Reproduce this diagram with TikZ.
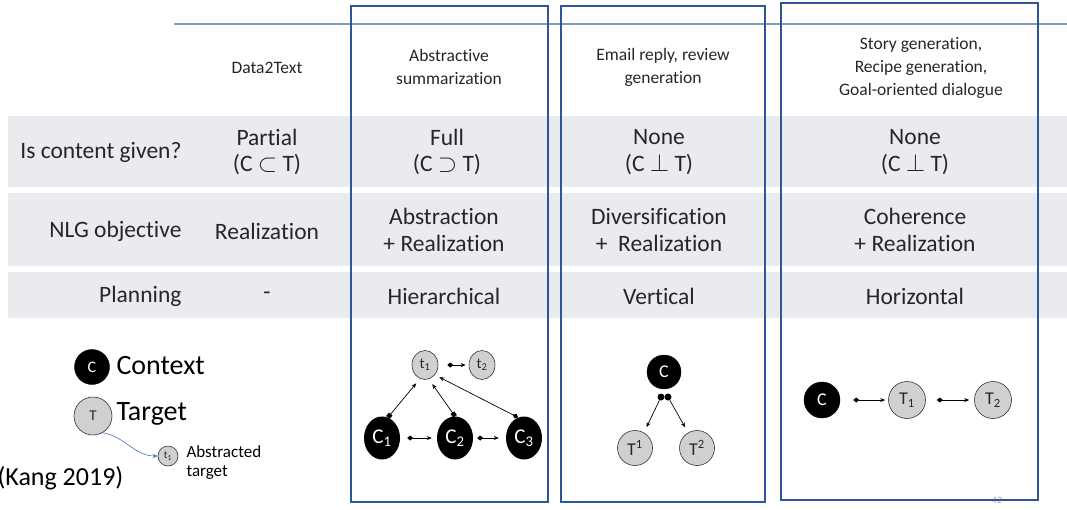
\documentclass[tikz,border=0pt]{standalone}
\usepackage{fontspec}
\setmainfont[Ligatures=NoCommon]{Carlito}
\usetikzlibrary{arrows.meta,shapes.geometric}
\definecolor{rowgray}{HTML}{E9EBEE}
\definecolor{boxblue}{HTML}{2F5597}
\definecolor{rulegray}{HTML}{8497B0}
\definecolor{txt}{HTML}{262626}
\definecolor{nodegray}{HTML}{D0D0D0}
\definecolor{linkblue}{HTML}{4472C4}
\tikzset{
  x=1pt, y=-1pt,
  head/.style={text=txt, align=center, font=\fontsize{17.5}{23}\selectfont},
  cell/.style={text=txt, align=center, font=\fontsize{23.5}{26.5}\selectfont},
  rowlabel/.style={text=txt, anchor=east, font=\fontsize{23.5}{26}\selectfont},
  colbox/.style={draw=boxblue, line width=2.6pt},
  ctx/.style={circle, fill=black, draw=black, text=white, inner sep=0pt},
  tgt/.style={circle, fill=nodegray, draw=black!80, line width=0.6pt, text=txt, inner sep=0pt},
  bigctx/.style={ellipse, fill=black, text=white, inner sep=0pt, minimum width=36pt, minimum height=43pt, font=\fontsize{21}{21}\selectfont},
  smalltgt/.style={ellipse, fill=nodegray, draw=black!80, line width=0.6pt, text=txt, inner sep=0pt, minimum width=26pt, minimum height=29pt, font=\fontsize{15}{15}\selectfont},
  link/.style={draw=black, line width=0.7pt, {Diamond[length=6pt,width=5pt]}-{Stealth[length=5pt,width=4pt]}},
  sqlink/.style={draw=black, line width=0.7pt, {Square[length=4.5pt,width=4.5pt]}-{Stealth[length=5pt,width=4pt]}},
  plainlink/.style={draw=black, line width=0.7pt, -{Stealth[length=5pt,width=4pt]}},
}
\begin{document}
\begin{tikzpicture}
\useasboundingbox (0,0) rectangle (1067,509);

% shaded table rows
\fill[rowgray] (8,116) rectangle (1067,187);
\fill[rowgray] (8,193) rectangle (1067,266);
\fill[rowgray] (8,272) rectangle (1067,318);

% rule under the title area
\draw[rulegray, line width=1.3pt] (174,24) -- (1067,24);

% slide number
\node[text=black!35, font=\fontsize{10}{10}\selectfont] (pgno) at (997,500) {42};

% column headers
\node[head] (h1) at (267,68) {Data2Text};
\node[head] (h2) at (449,67) {Abstractive\\summarization};
\node[head] (h3) at (663,67) {Email reply, review\\generation};
\node[head] (h4) at (921,68) {Story generation,\\Recipe generation,\\Goal-oriented dialogue};

% row labels
\node[rowlabel] (l1) at (185,152) {Is content given?};
\node[rowlabel] (l2) at (185,231) {NLG objective};
\node[rowlabel] (l3) at (185,296) {Planning};

% row 1
\node[cell] (r1c1) at (267,152) {Partial\\(C $\subset$ T)};
\node[cell] (r1c2) at (447,152) {Full\\(C $\supset$ T)};
\node[cell] (r1c3) at (659,152) {None\\(C $\perp$ T)};
\node[cell] (r1c4) at (915,152) {None\\(C $\perp$ T)};

% row 2
\node[cell] (r2c1) at (267,231) {Realization};
\node[cell] (r2c2) at (444,230) {Abstraction\\+ Realization};
\node[cell] (r2c3) at (659,230) {Diversification\\+\ \ Realization};
\node[cell] (r2c4) at (915,230) {Coherence\\+ Realization};

% row 3
\node[cell] (r3c1) at (267,296) {-};
\node[cell] (r3c2) at (444,296) {Hierarchical};
\node[cell] (r3c3) at (659,296) {Vertical};
\node[cell] (r3c4) at (915,296) {Horizontal};

% highlighted columns
\draw[colbox] (351,6) rectangle (548,502);
\draw[colbox] (561,6) rectangle (765,502);
\draw[colbox] (781,3) rectangle (1038,500);

% legend
\node[ctx, minimum size=35pt, font=\fontsize{16}{16}\selectfont] (lc) at (92,367) {C};
\node[anchor=west, font=\fontsize{28}{28}\selectfont] (lctext) at (113,366) {Context};
\node[tgt, minimum size=38pt, font=\fontsize{15}{15}\selectfont] (lt) at (93,416) {T};
\node[anchor=west, font=\fontsize{28}{28}\selectfont] (lttext) at (113,414) {Target};
\node[tgt, minimum size=20pt, font=\fontsize{11}{11}\selectfont] (ls) at (168,456) {t\textsubscript{1}};
\node[anchor=west, align=left, font=\fontsize{17}{19}\selectfont] (lstext) at (183,463) {Abstracted\\target};
\draw[linkblue, line width=0.6pt, -{Stealth[length=5pt,width=4pt]}]
  (lt.300) to[out=-10, in=180] (ls.west);
\node[anchor=west, font=\fontsize{26}{26}\selectfont] (cite) at (-6,478) {(Kang 2019)};

% hierarchical planning
\node[smalltgt] (ht1) at (425,365) {t\textsubscript{1}};
\node[smalltgt] (ht2) at (482,365) {t\textsubscript{2}};
\node[bigctx] (hc1) at (382,438) {C\textsubscript{1}};
\node[bigctx] (hc2) at (455,438) {C\textsubscript{2}};
\node[bigctx] (hc3) at (524,438) {C\textsubscript{3}};
\draw[link, shorten <=9pt, shorten >=3pt] (ht1) -- (ht2);
\draw[link, shorten <=7pt, shorten >=5pt] (hc1) -- (hc2);
\draw[link, shorten <=4pt, shorten >=7pt] (hc2) -- (hc3);
\draw[sqlink, shorten >=6pt] (hc1.74) -- (ht1.250);
\draw[sqlink, shorten >=6pt] (hc2.north) -- (ht1.285);
\draw[link, shorten >=5pt] (hc3.106) -- (ht1.315);

% vertical planning
\node[ctx, minimum size=34pt, font=\fontsize{18}{18}\selectfont] (vc) at (664,372) {C};
\node[tgt, minimum size=35pt, font=\fontsize{18}{18}\selectfont] (vt1) at (635,448) {T\textsuperscript{1}};
\node[tgt, minimum size=35pt, font=\fontsize{18}{18}\selectfont] (vt2) at (697,448) {T\textsuperscript{2}};
\node[circle, fill=black, minimum size=7pt, inner sep=0pt] (vdl) at (661,397) {};
\node[circle, fill=black, minimum size=7pt, inner sep=0pt] (vdr) at (668,397) {};
\draw[plainlink, shorten >=6pt] (vdl) -- (vt1.60);
\draw[plainlink, shorten >=6pt] (vdr) -- (vt2.120);

% horizontal planning
\node[ctx, minimum size=36pt, font=\fontsize{18}{18}\selectfont] (hzc) at (822,400) {C};
\node[tgt, minimum size=37pt, font=\fontsize{18}{18}\selectfont] (hzt1) at (907,400) {T\textsubscript{1}};
\node[tgt, minimum size=37pt, font=\fontsize{18}{18}\selectfont] (hzt2) at (993,400) {T\textsubscript{2}};
\draw[link, shorten <=13pt, shorten >=3pt] (hzc) -- (hzt1);
\draw[link, shorten <=11pt, shorten >=5pt] (hzt1) -- (hzt2);
\end{tikzpicture}
\end{document}
